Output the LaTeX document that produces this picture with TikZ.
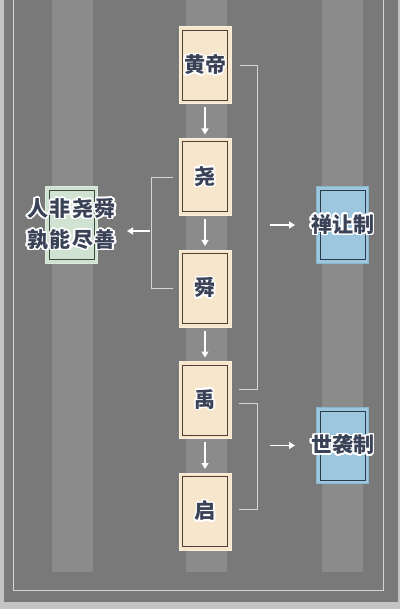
\documentclass[tikz,border=0pt]{standalone}
\usepackage{fontspec}
\usepackage{contour}
\usetikzlibrary{arrows.meta, positioning, calc}
\newfontfamily\cjk{Noto Sans CJK SC}
\definecolor{Slate}{RGB}{121,121,121}
\definecolor{Band}{RGB}{139,139,139}
\definecolor{Frame}{RGB}{214,214,214}
\definecolor{Paper}{RGB}{196,196,196}
\definecolor{Wheat}{RGB}{246,231,204}
\definecolor{WheatRim}{RGB}{250,239,218}
\definecolor{Umber}{RGB}{78,64,50}
\definecolor{Sky}{RGB}{157,199,222}
\definecolor{SkyRim}{RGB}{138,182,204}
\definecolor{Navy}{RGB}{44,58,74}
\definecolor{Sage}{RGB}{208,227,211}
\definecolor{SageRim}{RGB}{222,234,223}
\definecolor{Moss}{RGB}{60,74,62}
\definecolor{Ink}{RGB}{58,66,88}
\contourlength{1.5pt}
\contournumber{24}
\newcommand{\hz}[1]{\contour{white}{#1}}

\begin{document}
\begin{tikzpicture}[x=1pt, y=-1pt,
    node distance=33.5pt,
    every node/.style={font=\cjk\bfseries\fontsize{21}{31}\selectfont, text=Ink, align=center},
    card/.style={minimum width=52pt, minimum height=77pt, inner sep=0pt, line width=1pt,
        path picture={\draw[line width=1pt, #1]
            ([shift={(3.5pt,-3.5pt)}]path picture bounding box.north west) rectangle
            ([shift={(-3.5pt,3.5pt)}]path picture bounding box.south east);}},
    ruler/.style={card=Umber, draw=WheatRim, fill=Wheat},
    system/.style={card=Navy, draw=SkyRim, fill=Sky, minimum height=76pt},
    saying/.style={card=Moss, draw=SageRim, fill=Sage, minimum height=76pt},
    arr/.style={-{Triangle[length=6pt, width=7pt]}, white, line width=1.3pt},
    brk/.style={draw=Frame, line width=0.8pt}
]
\useasboundingbox (0,0) rectangle (400,609);
\fill[Paper] (0,0) rectangle (400,609);
\fill[Slate] (4,0) rectangle (398,602);
\foreach \x in {72.5,206.5,342.5}
    \fill[Band] (\x-20.5,0) rectangle (\x+20.5,572);
\draw[Frame, line width=1pt] (13.5,0) |- (383.5,590) -- (383.5,0);

\node[ruler, label=center:\hz{黄帝}] (hd) at (205,65.5) {};
\node[ruler, below=of hd, label=center:\hz{尧}] (yao) {};
\node[ruler, below=of yao, label=center:\hz{舜}] (shun) {};
\node[ruler, below=of shun, label=center:\hz{禹}] (yu) {};
\node[ruler, below=of yu, label=center:\hz{启}] (qi) {};

\node[system, label=center:\hz{禅让制}] (szr) at (342.5,225) {};
\node[system, label=center:\hz{世袭制}] (sxz) at (342.5,445.5) {};
\node[saying, label=center:{\hz{人\kern1.5pt 非\kern1.5pt 尧\kern1.5pt 舜}\\\hz{孰\kern1.5pt 能\kern1.5pt 尽\kern1.5pt 善}}] (grn) at (71.5,225) {};

\draw[arr, shorten <=3pt, shorten >=3.5pt] (hd) -- (yao);
\draw[arr, shorten <=3pt, shorten >=3.5pt] (yao) -- (shun);
\draw[arr, shorten <=3pt, shorten >=3.5pt] (shun) -- (yu);
\draw[arr, shorten <=3pt, shorten >=3.5pt] (yu) -- (qi);

\draw[brk] ([xshift=8pt]hd.east) -- ++(18,0) |- ([xshift=7pt, yshift=10.5pt]yu.east);
\draw[brk] ([xshift=7pt, yshift=-3.5pt]yu.east) -- ++(19,0) |- ([xshift=7pt, yshift=2.5pt]qi.east);
\draw[brk] ([xshift=-6pt]yao.west) -- ++(-21,0) |- ([xshift=-6pt]shun.west);

\coordinate (b1) at (257,225);
\coordinate (b2) at (257,445.5);
\coordinate (lb) at (152,231);
\draw[arr, shorten <=13pt, shorten >=21pt] (b1) -- (szr.west);
\draw[arr, shorten <=13pt, shorten >=21pt] (b2) -- (sxz.west);
\draw[arr, shorten <=2pt, shorten >=29pt] (lb) -- (lb -| grn.east);
\end{tikzpicture}
\end{document}
